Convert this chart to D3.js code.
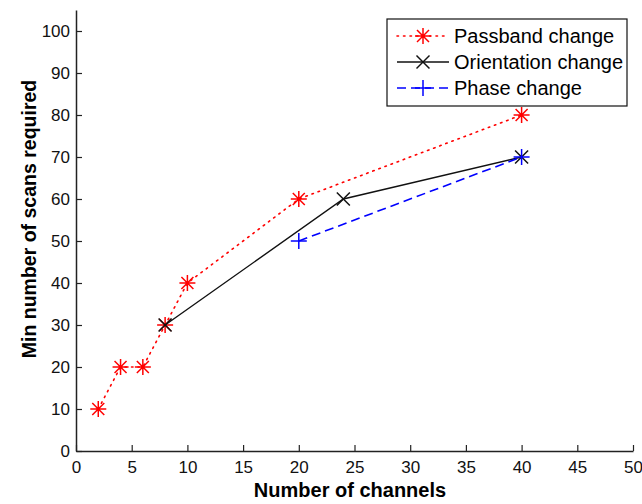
<!DOCTYPE html>
<html>
<head>
<meta charset="utf-8">
<script src="https://cdn.jsdelivr.net/npm/d3@7"></script>
<style>
  body { margin: 0; background: #fff; }
  text { font-family: "Liberation Sans", Arial, sans-serif; }
</style>
</head>
<body>
<script>
const passbandX = [2, 4, 6, 8, 10, 20, 40];
const passbandY = [10, 20, 20, 30, 40, 60, 80];
const orientationX = [8, 24, 40];
const orientationY = [30, 60, 70];
const phaseX = [20, 40];
const phaseY = [50, 70];
const xTicks = [0, 5, 10, 15, 20, 25, 30, 35, 40, 45, 50];
const yTicks = [0, 10, 20, 30, 40, 50, 60, 70, 80, 90, 100];
const legendLabels = ['Passband change', 'Orientation change', 'Phase change'];

const width = 642;
const height = 504;
const margin = { left: 76, right: 9, top: 10, bottom: 53 };

const x = d3.scaleLinear().domain([0, 50]).range([margin.left, width - margin.right]);
const y = d3.scaleLinear().domain([0, 105]).range([height - margin.bottom, margin.top]);

const svg = d3.select('body').append('svg')
  .attr('width', width)
  .attr('height', height);

// axes, ticks pointing inward
const xAxis = svg.append('g')
  .attr('transform', `translate(0,${y(0)})`)
  .call(d3.axisBottom(x).tickValues(xTicks).tickSizeInner(-6).tickSizeOuter(0).tickPadding(10));
const yAxis = svg.append('g')
  .attr('transform', `translate(${x(0)},0)`)
  .call(d3.axisLeft(y).tickValues(yTicks).tickSizeInner(-6).tickSizeOuter(0).tickPadding(6));

[xAxis, yAxis].forEach(g => {
  g.select('.domain').attr('stroke', '#222').attr('stroke-width', 1.5);
  g.selectAll('.tick line').attr('stroke', '#222').attr('stroke-width', 1.2);
  g.selectAll('.tick text').attr('font-size', 17).attr('fill', '#111')
    .attr('font-family', '"Liberation Sans", Arial, sans-serif');
});

svg.append('text')
  .attr('x', 350).attr('y', 497)
  .attr('text-anchor', 'middle')
  .attr('font-size', 20).attr('font-weight', 'bold')
  .text('Number of channels');

svg.append('text')
  .attr('transform', 'translate(36,219) rotate(-90)')
  .attr('text-anchor', 'middle')
  .attr('font-size', 19.5).attr('font-weight', 'bold')
  .text('Min number of scans required');

const series = [
  { xs: passbandX, ys: passbandY, color: '#ff0000', dash: '1.5,5', width: 1.6, marker: 'star' },
  { xs: orientationX, ys: orientationY, color: '#111', dash: null, width: 1.4, marker: 'x' },
  { xs: phaseX, ys: phaseY, color: '#0000ff', dash: '9,5', width: 1.6, marker: 'plus' },
];

const line = d3.line().x(d => x(d[0])).y(d => y(d[1]));

function drawMarker(g, type, cx, cy, color) {
  const m = g.append('g').attr('transform', `translate(${cx},${cy})`)
    .attr('stroke', color).attr('stroke-width', 1.5).attr('fill', 'none');
  let r = 8;
  const segs = [];
  if (type === 'star' || type === 'plus') {
    segs.push([-r, 0, r, 0], [0, -r, 0, r]);
  }
  if (type === 'star' || type === 'x') {
    const d = type === 'star' ? 6 : 6.5;
    segs.push([-d, -d, d, d], [-d, d, d, -d]);
  }
  m.selectAll('line').data(segs).enter().append('line')
    .attr('x1', s => s[0]).attr('y1', s => s[1])
    .attr('x2', s => s[2]).attr('y2', s => s[3]);
  if (type === 'star') {
    m.append('circle').attr('r', 2).attr('fill', color).attr('stroke', 'none');
  }
}

series.forEach(s => {
  const pts = s.xs.map((v, i) => [v, s.ys[i]]);
  svg.append('path')
    .datum(pts)
    .attr('d', line)
    .attr('fill', 'none')
    .attr('stroke', s.color)
    .attr('stroke-width', s.width)
    .attr('stroke-dasharray', s.dash)
    .attr('stroke-linecap', s.dash && s.marker === 'star' ? 'round' : 'butt');
  const mg = svg.append('g');
  pts.forEach(p => drawMarker(mg, s.marker, x(p[0]), y(p[1]), s.color));
});

// legend
const lg = svg.append('g');
lg.append('rect')
  .attr('x', 387).attr('y', 19).attr('width', 240).attr('height', 87)
  .attr('fill', '#fff').attr('stroke', '#111').attr('stroke-width', 1.2);

series.forEach((s, i) => {
  const ly = 36 + i * 26;
  lg.append('line')
    .attr('x1', 397).attr('x2', 449).attr('y1', ly).attr('y2', ly)
    .attr('stroke', s.color).attr('stroke-width', s.width)
    .attr('stroke-dasharray', s.dash)
    .attr('stroke-linecap', s.dash && s.marker === 'star' ? 'round' : 'butt');
  drawMarker(lg, s.marker, 423, ly, s.color);
  lg.append('text')
    .attr('x', 454).attr('y', ly + 7)
    .attr('font-size', 20)
    .text(legendLabels[i]);
});
</script>
</body>
</html>
